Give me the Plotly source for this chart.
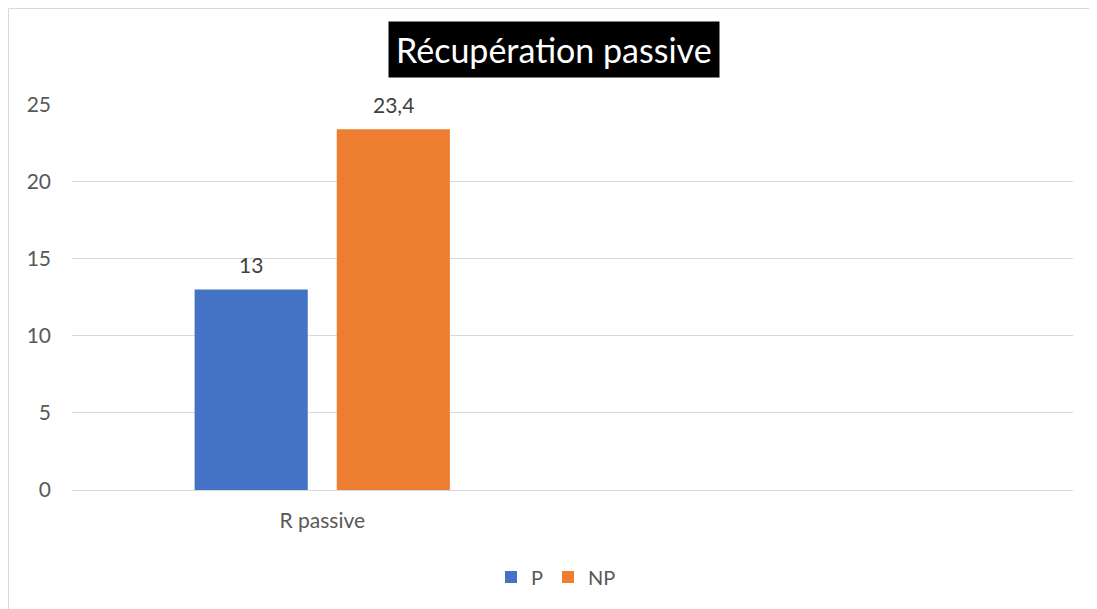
import plotly.graph_objects as go

categories = ["R passive", " "]
series_names = ["P", "NP"]
p_values = [13, None]
np_values = [23.4, None]
colors = ["#4472C4", "#ED7D31"]
y_ticks = [0, 5, 10, 15, 20, 25]

# the page puts the figure 8px in from the top-left corner
OFF = 8
W, H = 1097 - OFF, 609 - OFF
L, R, T, B = 72 - OFF, 24, 104 - OFF, 119
pw, ph = W - L - R, H - T - B


def px_x(x):
    # reference pixel -> paper coordinate
    return (x - OFF - L) / pw


def px_y(y):
    return (H - B - (y - OFF)) / ph


fig = go.Figure()
for name, vals, col in zip(series_names, [p_values, np_values], colors):
    fig.add_trace(go.Bar(
        x=categories,
        y=vals,
        name=name,
        marker=dict(color=col, line=dict(width=0)),
        hoverinfo="x+y+name",
    ))

# data labels above the bars
slot = 142
labels = []
for i, vals in enumerate([p_values, np_values]):
    for cat, v in zip(categories, vals):
        if v is None:
            continue
        labels.append(dict(
            x=cat, y=v, xref="x", yref="y",
            text=f"{v:g}".replace(".", ","),
            showarrow=False,
            xanchor="center", yanchor="middle",
            xshift=(i - 0.5) * slot, yshift=25,
            font=dict(family="Lato", size=21, color="#404040"),
        ))

fig.update_layout(
    width=W,
    height=H,
    margin=dict(l=L, r=R, t=T, b=B),
    paper_bgcolor="white",
    plot_bgcolor="white",
    separators=", ",
    barmode="group",
    bargap=0.432,
    bargroupgap=0.204,
    font=dict(family="Lato", size=21, color="#595959"),
    showlegend=True,
    legend=dict(
        orientation="h",
        x=px_x(556),
        xanchor="center",
        y=px_y(577),
        yanchor="middle",
        font=dict(size=20, color="#595959"),
        itemwidth=30,
        traceorder="normal",
    ),
    annotations=labels + [dict(
        text="Récupération passive",
        x=px_x(554),
        y=px_y(50),
        xref="paper",
        yref="paper",
        xanchor="center",
        yanchor="middle",
        showarrow=False,
        bgcolor="black",
        borderpad=7,
        font=dict(family="Lato", size=34, color="white"),
    )],
    shapes=[dict(
        type="rect",
        xref="paper",
        yref="paper",
        x0=px_x(8.5),
        x1=px_x(1096),
        y0=px_y(650),
        y1=px_y(8.5),
        line=dict(color="#d9d9d9", width=1),
        layer="below",
    )],
)

fig.update_xaxes(
    showgrid=False,
    showline=False,
    ticks="",
    ticklabelstandoff=16,
    tickfont=dict(size=21, color="#595959"),
)
fig.update_yaxes(
    range=[0, 25.03],
    tickvals=y_ticks,
    showgrid=True,
    gridcolor="#d9d9d9",
    gridwidth=1,
    zeroline=True,
    zerolinecolor="#d9d9d9",
    zerolinewidth=1,
    ticks="",
    ticklabelstandoff=20,
    tickfont=dict(size=21, color="#595959"),
)

fig.write_html("out.html")
